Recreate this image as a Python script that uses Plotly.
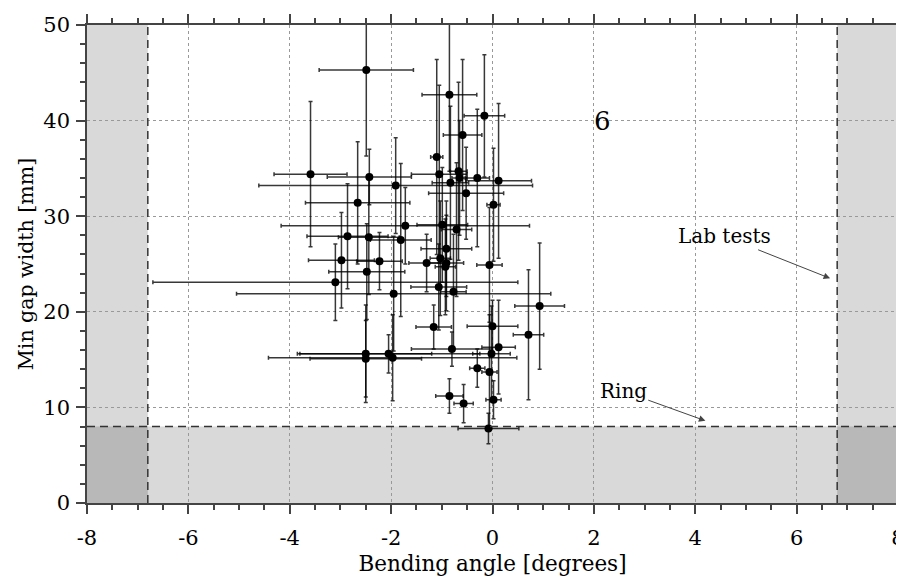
import plotly.graph_objects as go

# bending angle [degrees], min gap width [mm] and their uncertainties
angulo = [-2.49, -0.85, -0.16, -0.59, -1.10, -1.05, -0.67, -0.30, 0.12, -0.83,
          -0.65, -0.52, -1.91, -3.59, -2.43, -2.66, 0.02, -1.72, -0.99, -0.71,
          -2.86, -2.44, -1.81, -2.98, -2.23, -2.48, -3.10, -1.95, -1.30, -0.91,
          -1.03, -0.91, -0.93, -0.06, -1.06, -0.77, 0.93, -1.16, 0.00, 0.71,
          -0.80, 0.12, -0.02, -2.50, -2.50, -2.05, -1.97, -0.30, -0.06, -0.85,
          -0.57, 0.02, -0.08]
gap = [45.3, 42.7, 40.5, 38.5, 36.2, 34.4, 34.7, 34.0, 33.7, 33.5,
       34.0, 32.4, 33.2, 34.4, 34.1, 31.4, 31.2, 29.0, 29.1, 28.6,
       27.9, 27.8, 27.5, 25.4, 25.3, 24.2, 23.1, 21.9, 25.1, 26.6,
       25.6, 25.1, 24.7, 24.9, 22.6, 22.1, 20.6, 18.4, 18.5, 17.6,
       16.1, 16.3, 15.6, 15.6, 15.1, 15.6, 15.2, 14.1, 13.7, 11.2,
       10.4, 10.8, 7.8]
err_angulo = [0.93, 0.54, 0.40, 0.38, 0.12, 0.55, 0.17, 0.24, 0.65, 0.36,
              0.15, 0.74, 2.70, 0.72, 0.83, 1.03, 0.13, 2.45, 0.50, 0.30,
              0.80, 0.60, 0.60, 0.65, 0.45, 0.75, 3.60, 3.10, 0.35, 0.50,
              0.20, 0.34, 0.20, 0.25, 0.55, 0.25, 0.49, 0.35, 0.50, 0.30,
              0.80, 0.33, 0.37, 1.30, 1.10, 1.80, 2.45, 0.15, 0.15, 0.27,
              0.19, 0.15, 0.60]
err_gap = [9.0, 8.0, 6.4, 7.9, 10.2, 9.3, 9.3, 7.2, 8.1, 8.0,
           6.0, 4.8, 5.0, 7.6, 2.9, 6.4, 5.9, 4.0, 6.0, 7.0,
           5.5, 6.0, 8.0, 5.0, 3.0, 5.0, 4.0, 6.0, 3.0, 5.0,
           6.0, 5.0, 5.0, 6.0, 4.5, 6.0, 6.6, 2.3, 2.7, 6.8,
           1.8, 4.9, 5.0, 5.1, 4.0, 2.0, 4.5, 2.0, 6.0, 1.8,
           2.0, 2.0, 1.6]

ticks_x = [-8, -6, -4, -2, 0, 2, 4, 6, 8]
ticks_y = [0, 10, 20, 30, 40, 50]

limite_lab = 6.8
limite_ring = 8

fuente = "DejaVu Serif"

fig = go.Figure()

fig.add_trace(go.Scatter(
    x=angulo, y=gap, mode="markers",
    marker=dict(color="black", size=8),
    error_x=dict(type="data", array=err_angulo, color="rgba(0,0,0,0.78)", thickness=1.5, width=2),
    error_y=dict(type="data", array=err_gap, color="rgba(0,0,0,0.78)", thickness=1.5, width=2),
    showlegend=False
))

# zonas excluidas
gris = "rgba(0,0,0,0.15)"
fig.add_shape(type="rect", x0=-8, x1=-limite_lab, y0=0, y1=50, fillcolor=gris, line_width=0, layer="below")
fig.add_shape(type="rect", x0=limite_lab, x1=8, y0=0, y1=50, fillcolor=gris, line_width=0, layer="below")
fig.add_shape(type="rect", x0=-8, x1=8, y0=0, y1=limite_ring, fillcolor=gris, line_width=0, layer="below")

for xv in [-limite_lab, limite_lab]:
    fig.add_shape(type="line", x0=xv, x1=xv, y0=0, y1=50,
                  line=dict(color="#333", width=1.5, dash="8px,5px"))
fig.add_shape(type="line", x0=-8, x1=8, y0=limite_ring, y1=limite_ring,
              line=dict(color="#333", width=1.5, dash="8px,5px"))

fig.add_annotation(x=2.17, y=40, text="6", showarrow=False,
                   font=dict(family=fuente, size=26, color="black"))
fig.add_annotation(x=6.66, y=23.5, ax=4.57, ay=27.9, axref="x", ayref="y",
                   text="Lab tests", showarrow=True, arrowhead=2, arrowsize=1.3,
                   arrowwidth=1, arrowcolor="#444",
                   font=dict(family=fuente, size=20, color="black"))
fig.add_annotation(x=4.2, y=8.6, ax=2.58, ay=11.7, axref="x", ayref="y",
                   text="Ring", showarrow=True, arrowhead=2, arrowsize=1.3,
                   arrowwidth=1, arrowcolor="#444",
                   font=dict(family=fuente, size=20, color="black"))

eje = dict(showline=True, linecolor="#444", linewidth=1.5, mirror="ticks",
           ticks="outside", ticklen=9, tickcolor="#444", tickwidth=1.5,
           showgrid=True, gridcolor="#999", griddash="dot", gridwidth=1,
           zeroline=False, automargin=False, ticklabeloverflow="allow",
           tickfont=dict(family=fuente, size=21, color="black"))

fig.update_xaxes(range=[-8, 8], tickvals=ticks_x, ticktext=[str(v) for v in ticks_x],
                 ticklabelstandoff=6,
                 minor=dict(dtick=0.5, ticks="outside", ticklen=5, tickcolor="#444", showgrid=False),
                 title=dict(text="Bending angle [degrees]", standoff=12,
                            font=dict(family=fuente, size=21.5, color="black")),
                 **eje)
fig.update_yaxes(range=[0, 50], tickvals=ticks_y, ticktext=[str(v) for v in ticks_y],
                 ticklabelstandoff=2,
                 minor=dict(dtick=2, ticks="outside", ticklen=5, tickcolor="#444", showgrid=False),
                 title=dict(text="Min gap width [mm]", standoff=4,
                            font=dict(family=fuente, size=20.5, color="black")),
                 **eje)

# la página añade 8 px de margen, se descuentan aquí
fig.update_layout(width=896, height=568, plot_bgcolor="white", paper_bgcolor="white",
                  margin=dict(l=79, r=6, t=17, b=73))

fig.write_html("out.html")
